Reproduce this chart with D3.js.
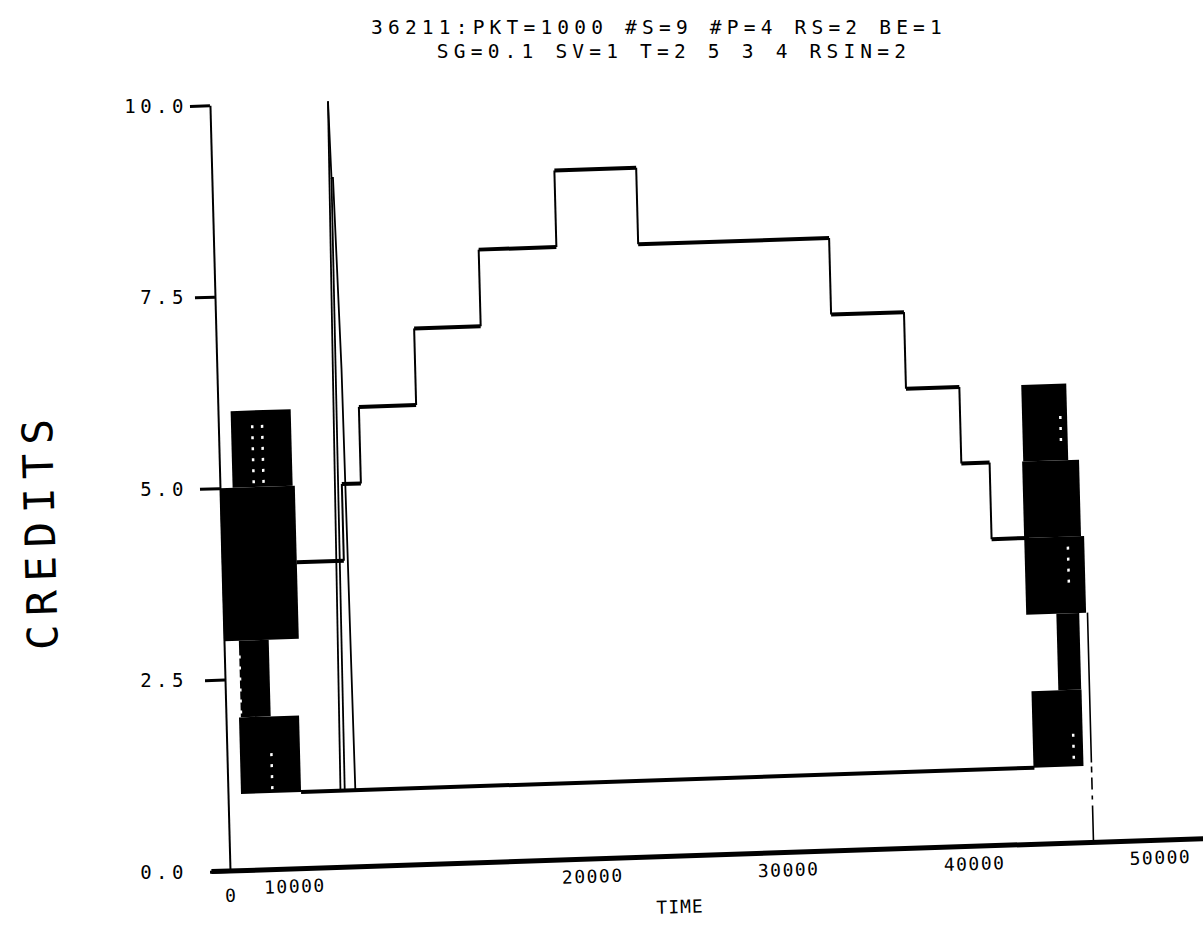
<!DOCTYPE html>
<html>
<head>
<meta charset="utf-8">
<script src="https://cdn.jsdelivr.net/npm/d3@7"></script>
<style>
  body { margin: 0; background: #fff; }
  text { font-family: "DejaVu Sans Mono", monospace; fill: #000; }
</style>
</head>
<body>
<script>
// Title lines and tick values
var titleLines = ["36211:PKT=1000 #S=9 #P=4 RS=2 BE=1", "SG=0.1 SV=1 T=2 5 3 4 RSIN=2"];
var xTicks = [0, 10000, 20000, 30000, 40000, 50000];
var yTicks = [0, 2.5, 5, 7.5, 10];

// Middle staircase: change times and the level held between them
var stairTimes  = [4015, 6555, 7580, 10660, 14240, 18420, 22820, 33090, 37010, 39880, 41400, 43410];
var stairLevels = [4, 5, 6, 7, 8, 9, 8, 7, 6, 5, 4];

// Bottom line at one credit
var floorTimes  = [3930, 43380];
var floorLevels = [1, 1];

// Fast switching at start and end, drawn as solid bands
var bandStart = [680, 0, 800, 700, 43210, 43150, 43155, 44775, 43330];
var bandEnd   = [3910, 4025, 2405, 3930, 45630, 46210, 46375, 46005, 46020];
var bandLow   = [5, 3, 2, 1, 5, 4, 3, 2, 1];
var bandHigh  = [6, 5, 3, 2, 6, 5, 4, 3, 2];

// White dotted gaps inside the bands
var gapTimes = [1820, 2350, 810, 2390, 45265, 45490, 45510];
var gapLow   = [5.05, 5.05, 2.05, 1.05, 5.25, 3.4, 1.1];
var gapHigh  = [5.85, 5.85, 2.9, 1.6, 5.6, 3.9, 1.5];

// Spike near t = 6300
var spikeLeft  = [[6050, 1], [6350, 10]];
var spikeRight = [[6350, 10], [6430, 9], [6510, 9], [6700, 6.5], [6850, 1]];
var spikeInner = [[6280, 1], [6430, 9]];

// Last flow dropping to zero
var dropTimes  = [46450, 46450];
var dropLevels = [3, 0];

var svgWidth = 1203;
var svgHeight = 931;

var svg = d3.select("body")
  .append("svg")
  .attr("width", svgWidth)
  .attr("height", svgHeight);

// the scanned plot is slightly tilted: x axis rises ~1.9 deg, y axis leans ~1.5 deg
var chartGroup = svg.append("g")
  .attr("transform", "matrix(0.99945, -0.03316, 0.02618, 0.99966, 230, 871)");

var xScale = d3.scaleLinear().domain([0, 50000]).range([0, 930]);
var yScale = d3.scaleLinear().domain([0, 10]).range([0, -766]);

// title
svg.append("g")
  .selectAll("text")
  .data(titleLines)
  .enter()
  .append("text")
  .attr("x", (d, i) => i === 0 ? 659 : 674)
  .attr("y", (d, i) => 34 + i * 24)
  .attr("text-anchor", "middle")
  .style("font-size", "19.5px")
  .style("letter-spacing", "5.2px")
  .text(d => d);

// bands
chartGroup.append("g")
  .selectAll("rect")
  .data(bandStart)
  .enter()
  .append("rect")
  .attr("x", (d, i) => xScale(d))
  .attr("y", (d, i) => yScale(bandHigh[i]))
  .attr("width", (d, i) => xScale(bandEnd[i]) - xScale(d))
  .attr("height", (d, i) => yScale(bandLow[i]) - yScale(bandHigh[i]))
  .attr("fill", "#000");

chartGroup.append("g")
  .selectAll("line")
  .data(gapTimes)
  .enter()
  .append("line")
  .attr("x1", d => xScale(d))
  .attr("x2", d => xScale(d))
  .attr("y1", (d, i) => yScale(gapLow[i]))
  .attr("y2", (d, i) => yScale(gapHigh[i]))
  .attr("stroke", "#fff")
  .attr("stroke-width", 2.5)
  .attr("stroke-dasharray", "3 8");

// staircase: horizontals heavier than verticals, like the pen plot
var stairGroup = chartGroup.append("g");
stairLevels.forEach(function(level, i) {
  stairGroup.append("line")
    .attr("x1", xScale(stairTimes[i]))
    .attr("x2", xScale(stairTimes[i + 1]))
    .attr("y1", yScale(level))
    .attr("y2", yScale(level))
    .attr("stroke", "#000")
    .attr("stroke-width", 4);
  if (i > 0) {
    stairGroup.append("line")
      .attr("x1", xScale(stairTimes[i]))
      .attr("x2", xScale(stairTimes[i]))
      .attr("y1", yScale(stairLevels[i - 1]))
      .attr("y2", yScale(level))
      .attr("stroke", "#000")
      .attr("stroke-width", 2);
  }
});

var lineGen = d3.line()
  .x(d => xScale(d[0]))
  .y(d => yScale(d[1]));

chartGroup.append("path")
  .datum(floorTimes.map((t, i) => [t, floorLevels[i]]))
  .attr("d", lineGen)
  .attr("fill", "none")
  .attr("stroke", "#000")
  .attr("stroke-width", 4);

[spikeLeft, spikeRight, spikeInner].forEach(function(pts) {
  chartGroup.append("path")
    .datum(pts)
    .attr("d", lineGen)
    .attr("fill", "none")
    .attr("stroke", "#000")
    .attr("stroke-width", 1.8);
});

chartGroup.append("path")
  .datum(dropTimes.map((t, i) => [t, dropLevels[i]]))
  .attr("d", lineGen)
  .attr("fill", "none")
  .attr("stroke", "#000")
  .attr("stroke-width", 1.6)
  .attr("stroke-dasharray", "150 4 6 5 12 6 4 6 40");

// y axis line and ticks (tilted with the plot)
var leftAxis = d3.axisLeft(yScale)
  .tickValues(yTicks)
  .tickFormat(() => "")
  .tickSize(20)
  .tickSizeOuter(0);

var yAxisG = chartGroup.append("g").call(leftAxis);
yAxisG.select(".domain").attr("stroke", "#000").attr("stroke-width", 2);
yAxisG.selectAll(".tick line").attr("stroke", "#000").attr("stroke-width", 3);

// y tick labels sit in an upright column on the scan
var yLabelScale = d3.scaleLinear().domain([0, 10]).range([872, 106]);
var yLabelG = svg.append("g")
  .attr("transform", "translate(188, 0)")
  .call(d3.axisLeft(yLabelScale).tickValues(yTicks).tickFormat(d3.format(".1f")).tickSize(0).tickPadding(0));
yLabelG.select(".domain").remove();
yLabelG.selectAll(".tick text")
  .style("font-size", "19px")
  .style("letter-spacing", "4.5px")
  .style("font-family", "DejaVu Sans Mono, monospace");

// x axis
var bottomAxis = d3.axisBottom(xScale)
  .tickValues(xTicks)
  .tickFormat(d3.format("d"))
  .tickSize(0)
  .tickPadding(11);

var xAxisG = chartGroup.append("g").call(bottomAxis);
xAxisG.select(".domain").remove();
xAxisG.selectAll(".tick text")
  .style("font-size", "18px")
  .style("letter-spacing", "1.5px")
  .style("font-family", "DejaVu Sans Mono, monospace");
// the plotter put the 10000 label well left of its tick
xAxisG.selectAll(".tick text").filter(d => d === 10000).attr("dx", -122);
xAxisG.selectAll(".tick text").filter(d => d === 20000).attr("dx", -10);
xAxisG.selectAll(".tick text").filter(d => d === 0).attr("dy", "1.1em");

chartGroup.append("line")
  .attr("x1", xScale(-1000))
  .attr("x2", xScale(52600))
  .attr("y1", yScale(0))
  .attr("y2", yScale(0))
  .attr("stroke", "#000")
  .attr("stroke-width", 5);

// axis titles
chartGroup.append("text")
  .attr("x", 449)
  .attr("y", 57)
  .attr("text-anchor", "middle")
  .style("font-size", "18px")
  .style("letter-spacing", "1px")
  .text("TIME");

chartGroup.append("text")
  .attr("transform", "translate(-181, -347) rotate(-90)")
  .attr("text-anchor", "middle")
  .attr("dy", "0.35em")
  .style("font-size", "42px")
  .style("letter-spacing", "9px")
  .text("CREDITS");
</script>
</body>
</html>
